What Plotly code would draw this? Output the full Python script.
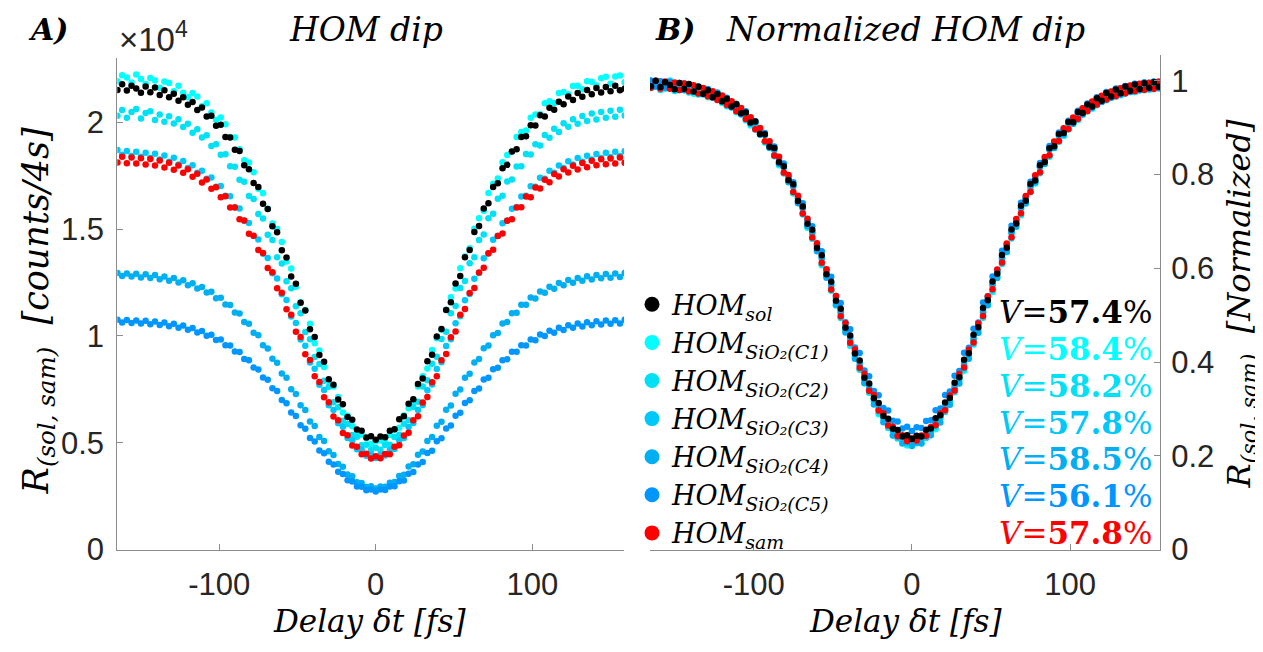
import plotly.graph_objects as go

# ---------------- data ----------------
delay_fs = [-165, -162, -159, -156, -153, -150, -147, -144, -141, -138,
            -135, -132, -129, -126, -123, -120, -117, -114, -111, -108,
            -105, -102, -99, -96, -93, -90, -87, -84, -81, -78,
            -75, -72, -69, -66, -63, -60, -57, -54, -51, -48,
            -45, -42, -39, -36, -33, -30, -27, -24, -21, -18,
            -15, -12, -9, -6, -3, 0,
            3, 6, 9, 12, 15, 18, 21, 24, 27, 30,
            33, 36, 39, 42, 45, 48, 51, 54, 57, 60,
            63, 66, 69, 72, 75, 78, 81, 84, 87, 90,
            93, 96, 99, 102, 105, 108, 111, 114, 117, 120,
            123, 126, 129, 132, 135, 138, 141, 144, 147, 150,
            153, 156, 159]

# counts / 4 s, in units of 1e4
hom_sol = [2.152, 2.178, 2.149, 2.171, 2.158, 2.139, 2.168, 2.141, 2.163, 2.128,
           2.150, 2.118, 2.134, 2.101, 2.117, 2.083, 2.095, 2.058, 2.069, 2.027,
           2.031, 1.984, 1.989, 1.931, 1.929, 1.872, 1.866, 1.799, 1.781, 1.716,
           1.697, 1.619, 1.594, 1.514, 1.486, 1.401, 1.367, 1.279, 1.244, 1.156,
           1.119, 1.031, 0.995, 0.911, 0.879, 0.798, 0.772, 0.703, 0.681, 0.621,
           0.608, 0.562, 0.556, 0.525, 0.531, 0.514,
           0.529, 0.526, 0.557, 0.563, 0.610, 0.624, 0.683, 0.704, 0.775, 0.801,
           0.882, 0.912, 0.998, 1.033, 1.122, 1.158, 1.246, 1.281, 1.369, 1.402,
           1.487, 1.515, 1.597, 1.621, 1.698, 1.715, 1.785, 1.801, 1.864, 1.874,
           1.931, 1.935, 1.986, 1.985, 2.033, 2.028, 2.068, 2.059, 2.097, 2.085,
           2.121, 2.105, 2.137, 2.120, 2.151, 2.132, 2.161, 2.140, 2.166, 2.146,
           2.171, 2.150, 2.158]

hom_c1 = [2.192, 2.221, 2.210, 2.186, 2.224, 2.203, 2.179, 2.208, 2.196, 2.162,
          2.191, 2.184, 2.146, 2.171, 2.139, 2.118, 2.137, 2.121, 2.075, 2.089,
          2.046, 2.012, 2.023, 1.991, 1.931, 1.929, 1.874, 1.823, 1.812, 1.767,
          1.689, 1.668, 1.596, 1.527, 1.501, 1.440, 1.349, 1.316, 1.230, 1.158,
          1.122, 1.057, 0.966, 0.932, 0.855, 0.789, 0.763, 0.714, 0.642, 0.627,
          0.577, 0.541, 0.538, 0.521, 0.494, 0.507,
          0.511, 0.503, 0.536, 0.561, 0.571, 0.628, 0.662, 0.689, 0.764, 0.811,
          0.848, 0.934, 0.989, 1.029, 1.123, 1.181, 1.222, 1.317, 1.372, 1.411,
          1.502, 1.551, 1.586, 1.669, 1.713, 1.737, 1.813, 1.847, 1.864, 1.931,
          1.955, 1.962, 2.022, 2.037, 2.038, 2.090, 2.099, 2.091, 2.138, 2.142,
          2.131, 2.170, 2.171, 2.155, 2.193, 2.190, 2.172, 2.206, 2.213, 2.181,
          2.215, 2.219, 2.188]

hom_c2 = [2.031, 2.058, 2.022, 2.049, 2.063, 2.018, 2.044, 2.052, 2.011, 2.037,
          2.003, 2.029, 1.995, 2.014, 1.978, 1.993, 1.951, 1.968, 1.929, 1.940,
          1.889, 1.897, 1.848, 1.851, 1.794, 1.792, 1.731, 1.722, 1.655, 1.641,
          1.571, 1.550, 1.474, 1.449, 1.368, 1.339, 1.256, 1.224, 1.139, 1.106,
          1.019, 0.985, 0.902, 0.869, 0.791, 0.762, 0.690, 0.667, 0.603, 0.588,
          0.537, 0.528, 0.489, 0.491, 0.466, 0.477,
          0.468, 0.490, 0.491, 0.527, 0.538, 0.589, 0.605, 0.668, 0.692, 0.763,
          0.793, 0.870, 0.903, 0.986, 1.020, 1.107, 1.140, 1.225, 1.257, 1.340,
          1.369, 1.449, 1.475, 1.551, 1.572, 1.642, 1.656, 1.723, 1.732, 1.793,
          1.795, 1.852, 1.849, 1.898, 1.892, 1.941, 1.928, 1.970, 1.955, 1.996,
          1.979, 2.015, 1.993, 2.030, 2.006, 2.041, 2.013, 2.049, 2.021, 2.054,
          2.026, 2.059, 2.032]

hom_c3 = [1.871, 1.848, 1.866, 1.842, 1.862, 1.839, 1.858, 1.833, 1.853, 1.826,
          1.845, 1.816, 1.834, 1.803, 1.819, 1.786, 1.799, 1.764, 1.774, 1.736,
          1.742, 1.699, 1.702, 1.656, 1.654, 1.603, 1.597, 1.540, 1.529, 1.468,
          1.452, 1.385, 1.365, 1.294, 1.269, 1.195, 1.168, 1.091, 1.061, 0.984,
          0.954, 0.876, 0.847, 0.772, 0.747, 0.676, 0.654, 0.592, 0.575, 0.522,
          0.512, 0.470, 0.467, 0.439, 0.445, 0.429,
          0.444, 0.440, 0.466, 0.471, 0.511, 0.523, 0.574, 0.593, 0.653, 0.677,
          0.746, 0.773, 0.846, 0.877, 0.953, 0.985, 1.060, 1.092, 1.167, 1.196,
          1.268, 1.295, 1.364, 1.386, 1.451, 1.469, 1.528, 1.541, 1.596, 1.604,
          1.653, 1.657, 1.701, 1.699, 1.741, 1.736, 1.773, 1.764, 1.798, 1.786,
          1.818, 1.803, 1.833, 1.816, 1.844, 1.826, 1.852, 1.833, 1.858, 1.838,
          1.862, 1.842, 1.865]

hom_c4 = [1.295, 1.281, 1.293, 1.278, 1.291, 1.274, 1.289, 1.271, 1.285, 1.266,
          1.279, 1.259, 1.271, 1.250, 1.261, 1.238, 1.247, 1.222, 1.229, 1.203,
          1.207, 1.177, 1.179, 1.147, 1.145, 1.110, 1.105, 1.066, 1.057, 1.015,
          1.003, 0.957, 0.942, 0.893, 0.875, 0.824, 0.804, 0.751, 0.729, 0.676,
          0.654, 0.600, 0.579, 0.527, 0.509, 0.460, 0.443, 0.401, 0.388, 0.352,
          0.344, 0.315, 0.312, 0.293, 0.297, 0.286,
          0.296, 0.294, 0.313, 0.316, 0.345, 0.351, 0.389, 0.400, 0.444, 0.459,
          0.509, 0.527, 0.580, 0.599, 0.655, 0.675, 0.730, 0.750, 0.805, 0.823,
          0.876, 0.892, 0.943, 0.956, 1.004, 1.014, 1.058, 1.065, 1.106, 1.109,
          1.146, 1.146, 1.180, 1.176, 1.208, 1.202, 1.230, 1.221, 1.248, 1.237,
          1.262, 1.249, 1.272, 1.258, 1.280, 1.265, 1.286, 1.270, 1.290, 1.273,
          1.293, 1.276, 1.295]

hom_c5 = [1.076, 1.063, 1.075, 1.061, 1.073, 1.058, 1.071, 1.055, 1.068, 1.051,
          1.063, 1.046, 1.057, 1.039, 1.049, 1.029, 1.037, 1.016, 1.023, 1.001,
          1.006, 0.981, 0.983, 0.957, 0.956, 0.927, 0.925, 0.892, 0.886, 0.852,
          0.843, 0.806, 0.795, 0.755, 0.742, 0.700, 0.685, 0.642, 0.626, 0.582,
          0.566, 0.522, 0.506, 0.464, 0.451, 0.411, 0.398, 0.364, 0.354, 0.325,
          0.319, 0.296, 0.294, 0.278, 0.282, 0.272,
          0.281, 0.279, 0.295, 0.297, 0.320, 0.324, 0.355, 0.363, 0.399, 0.410,
          0.452, 0.463, 0.507, 0.521, 0.567, 0.581, 0.627, 0.641, 0.686, 0.699,
          0.743, 0.754, 0.796, 0.805, 0.844, 0.851, 0.887, 0.891, 0.926, 0.926,
          0.957, 0.956, 0.984, 0.980, 1.007, 1.000, 1.024, 1.015, 1.038, 1.028,
          1.050, 1.038, 1.058, 1.045, 1.064, 1.050, 1.069, 1.054, 1.072, 1.057,
          1.074, 1.059, 1.076]

hom_sam = [1.812, 1.839, 1.809, 1.836, 1.808, 1.832, 1.803, 1.828, 1.798, 1.821,
           1.789, 1.811, 1.778, 1.798, 1.764, 1.781, 1.745, 1.759, 1.719, 1.732,
           1.689, 1.696, 1.649, 1.654, 1.602, 1.602, 1.546, 1.541, 1.479, 1.469,
           1.403, 1.388, 1.318, 1.298, 1.224, 1.202, 1.125, 1.100, 1.020, 0.995,
           0.915, 0.888, 0.811, 0.785, 0.713, 0.690, 0.623, 0.606, 0.546, 0.535,
           0.487, 0.482, 0.446, 0.449, 0.426, 0.437,
           0.428, 0.448, 0.447, 0.481, 0.488, 0.534, 0.547, 0.605, 0.624, 0.689,
           0.714, 0.784, 0.812, 0.887, 0.916, 0.994, 1.021, 1.099, 1.126, 1.201,
           1.225, 1.297, 1.319, 1.387, 1.404, 1.468, 1.480, 1.540, 1.547, 1.601,
           1.603, 1.653, 1.650, 1.695, 1.690, 1.731, 1.720, 1.758, 1.746, 1.780,
           1.765, 1.797, 1.779, 1.810, 1.790, 1.820, 1.799, 1.827, 1.804, 1.831,
           1.808, 1.835, 1.811]

series_names = ["HOM<sub>sol</sub>", "HOM<sub>SiO₂(C1)</sub>", "HOM<sub>SiO₂(C2)</sub>",
                "HOM<sub>SiO₂(C3)</sub>", "HOM<sub>SiO₂(C4)</sub>", "HOM<sub>SiO₂(C5)</sub>",
                "HOM<sub>sam</sub>"]
visibility_pct = ["57.4", "58.4", "58.2", "57.8", "58.5", "56.1", "57.8"]
left_ticks = [0, 0.5, 1, 1.5, 2]
left_tick_text = ["0", "0.5", "1", "1.5", "2"]
right_ticks = [0, 0.2, 0.4, 0.6, 0.8, 1]
right_tick_text = ["0", "0.2", "0.4", "0.6", "0.8", "1"]
x_ticks = [-100, 0, 100]
x_tick_text = ["-100", "0", "100"]

series = [hom_sol, hom_c1, hom_c2, hom_c3, hom_c4, hom_c5, hom_sam]
colors = ["#000000", "#00FFFF", "#00E1F5", "#00C8FA", "#00AEF2", "#0096FF", "#FF0000"]

# ---------------- layout helpers ----------------
W, H = 1263, 652
def fx(p):
    return p / W
def fy(p):
    return 1 - p / H

SERIF = "DejaVu Serif"
SANS = "Liberation Sans"
AX = "#8c8c8c"
TXT = "#262626"

fig = go.Figure()
draw_order = [1, 2, 3, 4, 5, 6, 0]

for i in draw_order:
    fig.add_trace(go.Scatter(x=delay_fs, y=series[i], mode="markers",
                             marker=dict(size=6.5, color=colors[i]),
                             showlegend=False, hoverinfo="skip",
                             xaxis="x", yaxis="y"))
for i in draw_order:
    mx = max(series[i])
    fig.add_trace(go.Scatter(x=delay_fs, y=[v / mx for v in series[i]], mode="markers",
                             marker=dict(size=6.5, color=colors[i]),
                             showlegend=False, hoverinfo="skip",
                             xaxis="x2", yaxis="y2"))
for i in range(7):
    fig.add_trace(go.Scatter(x=[None], y=[None], mode="markers",
                             marker=dict(size=15, color=colors[i]),
                             name=series_names[i], showlegend=True,
                             xaxis="x2", yaxis="y2"))

axis_common = dict(showline=True, linecolor=AX, linewidth=1, ticks="inside",
                   ticklen=6, tickcolor=AX, showgrid=False, zeroline=False,
                   tickfont=dict(family=SANS, size=31, color=TXT))

fig.update_layout(
    width=W, height=H, autosize=False,
    margin=dict(l=0, r=0, t=0, b=0),
    paper_bgcolor="white", plot_bgcolor="white",
    hovermode=False,
    xaxis=dict(domain=[fx(109.3), fx(616)], range=[-165.1, 158.6], anchor="y",
               tickvals=x_ticks, ticktext=x_tick_text, ticklabelstandoff=7, **axis_common),
    yaxis=dict(domain=[fy(557), fy(51.7)], range=[0, 2.3], anchor="x",
               tickvals=left_ticks, ticktext=left_tick_text, ticklabelstandoff=6, **axis_common),
    xaxis2=dict(domain=[fx(642), fx(1152)], range=[-165.6, 156.9], anchor="y2",
                tickvals=x_ticks, ticktext=x_tick_text, ticklabelstandoff=7, **axis_common),
    yaxis2=dict(domain=[fy(557), fy(48.3)], range=[0, 1.055], anchor="x2", side="right",
                tickvals=right_ticks, ticktext=right_tick_text, ticklabelstandoff=4, **axis_common),
    legend=dict(x=fx(624), y=fy(280), xanchor="left", yanchor="top",
                bgcolor="rgba(0,0,0,0)", borderwidth=0, itemsizing="trace",
                font=dict(family=SERIF, size=27, color="black", style="italic")),
)

ann = []
def add_text(x, y, text, size, color="black", family=SERIF, angle=0, xanchor="center", **kw):
    ann.append(dict(x=fx(x), y=fy(y), xref="paper", yref="paper", text=text,
                    showarrow=False, xanchor=xanchor, yanchor="middle",
                    textangle=angle, font=dict(family=family, size=size, color=color, **kw)))

add_text(40, 22, "<b><i>A)</i></b>", 30)
add_text(358, 22, "<i>HOM dip</i>", 33)
add_text(667, 22, "<b><i>B)</i></b>", 30)
add_text(897, 22, "<i>Normalized HOM dip</i>", 33)
add_text(109, 30, "×10<sup>4</sup>", 33, color=TXT, family=SANS, xanchor="left")
add_text(362, 630, "<i>Delay δt [fs]</i>", 31)
add_text(897, 630, "<i>Delay δt [fs]</i>", 31)
add_text(30, 312, "<i>R<sub>(sol, sam)</sub>  [counts/4s]</i>", 35, angle=-90)
add_text(1233, 304, "<i>R<sub>(sol, sam)</sub>  [Normalized]</i>", 32, angle=-90)

v_y = [313, 351, 389, 427, 464, 502, 540]
for i in range(7):
    add_text(1146, v_y[i], "<i>V</i>=<b>" + visibility_pct[i] + "</b>%", 31,
             color=colors[i], xanchor="right")

fig.update_layout(annotations=ann)
fig.write_html("out.html")
